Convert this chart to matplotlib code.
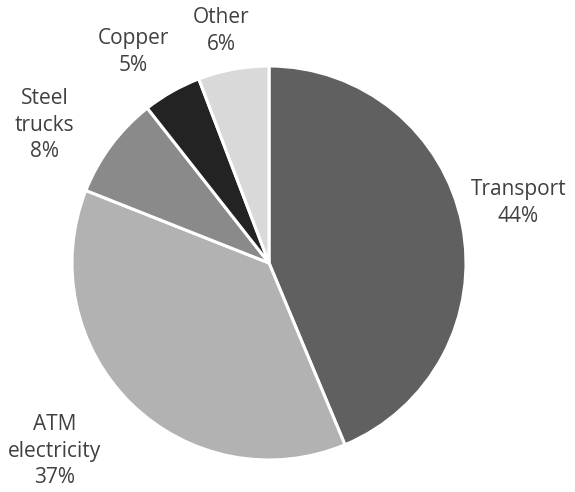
import matplotlib
matplotlib.use("Agg")
import matplotlib.pyplot as plt

categories = ["Transport", "ATM\nelectricity", "Steel\ntrucks", "Copper", "Other"]
shares = [43.7, 37.3, 8.4, 4.8, 5.8]
pct_labels = ["44%", "37%", "8%", "5%", "6%"]
colors = ["#606060", "#b2b2b2", "#8a8a8a", "#232323", "#d9d9d9"]
label_pos = [(1.265, 0.305), (-1.09, -0.955), (-1.14, 0.70), (-0.690, 1.071), (-0.244, 1.178)]

plt.rcParams['font.family'] = ['Open Sans', 'DejaVu Sans']
W, H = 575, 492
fig = plt.figure(figsize=(W / 100, H / 100), dpi=100)
cx, cy, r = 269, 263, 197
ax = fig.add_axes([(cx - r) / W, (H - cy - r) / H, 2 * r / W, 2 * r / H])
ax.pie(shares, colors=colors, startangle=90, counterclock=False, radius=1,
       wedgeprops=dict(edgecolor="white", linewidth=2.2))
for cat, pl, (x, y) in zip(categories, pct_labels, label_pos):
    ax.text(x, y, f"{cat}\n{pl}", ha="center", va="center", fontsize=15,
            color="#404040", linespacing=1.36)
ax.set_xlim(-1, 1)
ax.set_ylim(-1, 1)
ax.set_aspect("auto")
ax.axis("off")
fig.savefig("out.png", dpi=100)
